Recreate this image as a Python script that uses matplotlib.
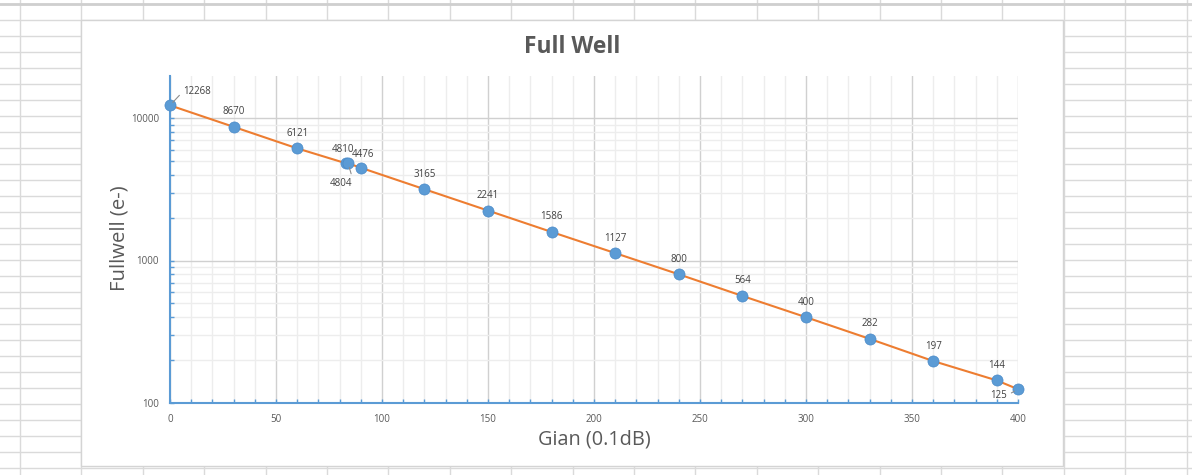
import numpy as np
import matplotlib
matplotlib.use("Agg")
import matplotlib.pyplot as plt
from matplotlib.ticker import FixedLocator, NullFormatter, FuncFormatter

plt.rcParams['font.family'] = ['Open Sans', 'DejaVu Sans']

# data
gain = [0, 30, 60, 83, 84, 90, 120, 150, 180, 210, 240, 270, 300, 330, 360, 390, 400]
fullwell = [12268, 8670, 6121, 4810, 4804, 4476, 3165, 2241, 1586, 1127, 800, 564,
            400, 282, 197, 144, 125]
# label offsets in pixels (dx, dy), y grows upward
label_off = {0: (27, 14), 3: (-3, 14), 4: (-7, -20), 5: (2, 13), 16: (-19, -6)}
# leader lines: where on the label box the line starts
leader = {0: (0, 0.5), 4: (1, 1), 16: (1, 0.5)}

W, H = 1192, 475
fig = plt.figure(figsize=(W / 100, H / 100), dpi=100)

# spreadsheet background
bg = fig.add_axes([0, 0, 1, 1])
bg.set_xlim(0, W)
bg.set_ylim(H, 0)
bg.axis('off')
cols = np.arange(20, W + 1, 61.4)
rows = np.arange(4, H + 1, 16)
for cx in cols:
    bg.axvline(cx, color='#dadada', lw=1)
for ry in rows:
    bg.axhline(ry, color='#dadada', lw=1)
bg.axhline(4, color='#cfcfcf', lw=2)
bg.add_patch(plt.Rectangle((81, 20), 982, 446, facecolor='white',
                           edgecolor='#d4d4d4', lw=1, zorder=3))
bg.text(572, 47, 'Full Well', ha='center', va='center', fontsize=16.4,
        fontweight='bold', color='#595959', zorder=4)
bg.text(594, 440, 'Gian (0.1dB)', ha='center', va='center', fontsize=14.3,
        color='#595959', zorder=4)
bg.text(120, 238, 'Fullwell (e-)', ha='center', va='center', fontsize=14.6,
        color='#595959', rotation=90, zorder=4)

ax = fig.add_axes([170 / W, 1 - 403 / H, 848 / W, 327 / H])
ax.set_facecolor('none')
ax.set_yscale('log')
ax.set_xlim(0, 400)
ax.set_ylim(100, 10 ** (4 + 42 / 142.5))

ax.xaxis.set_major_locator(FixedLocator(np.arange(0, 401, 50)))
ax.xaxis.set_minor_locator(FixedLocator(np.arange(0, 401, 10)))
ax.yaxis.set_major_locator(FixedLocator([100, 1000, 10000]))
minor_y = [m * d for d in (100, 1000, 10000) for m in range(2, 10)]
ax.yaxis.set_minor_locator(FixedLocator(minor_y))
ax.yaxis.set_minor_formatter(NullFormatter())
ax.yaxis.set_major_formatter(FuncFormatter(lambda v, p: f'{int(v)}'))

ax.grid(which='major', color='#d0d0d0', lw=1)
ax.grid(which='minor', color='#ededed', lw=1)
ax.set_axisbelow(True)

blue = '#5B9BD5'
for s in ('top', 'right'):
    ax.spines[s].set_visible(False)
for s in ('left', 'bottom'):
    ax.spines[s].set_color(blue)
    ax.spines[s].set_linewidth(1.5)
ax.tick_params(which='both', direction='in', color=blue, width=1, length=3,
               labelsize=7, labelcolor='#595959')
ax.tick_params(axis='x', pad=8)
ax.tick_params(axis='y', pad=8)

ax.plot(gain, fullwell, color='#ED7D31', lw=1.5, zorder=3, clip_on=False)
ax.plot(gain, fullwell, 'o', color=blue, ms=8, mec='#4a8ac8', mew=0.5,
        zorder=4, clip_on=False)

for i, (x, y) in enumerate(zip(gain, fullwell)):
    dx, dy = label_off.get(i, (0, 15))
    kw = {}
    if i in leader:
        kw['arrowprops'] = dict(arrowstyle='-', color='#8c8c8c', lw=0.8,
                                shrinkA=1, shrinkB=3, relpos=leader[i])
    ax.annotate(str(y), (x, y), xytext=(dx, dy), textcoords='offset pixels',
                ha='center', va='center', fontsize=7, color='#404040',
                annotation_clip=False, zorder=5, **kw)

fig.savefig('out.png', dpi=100)
